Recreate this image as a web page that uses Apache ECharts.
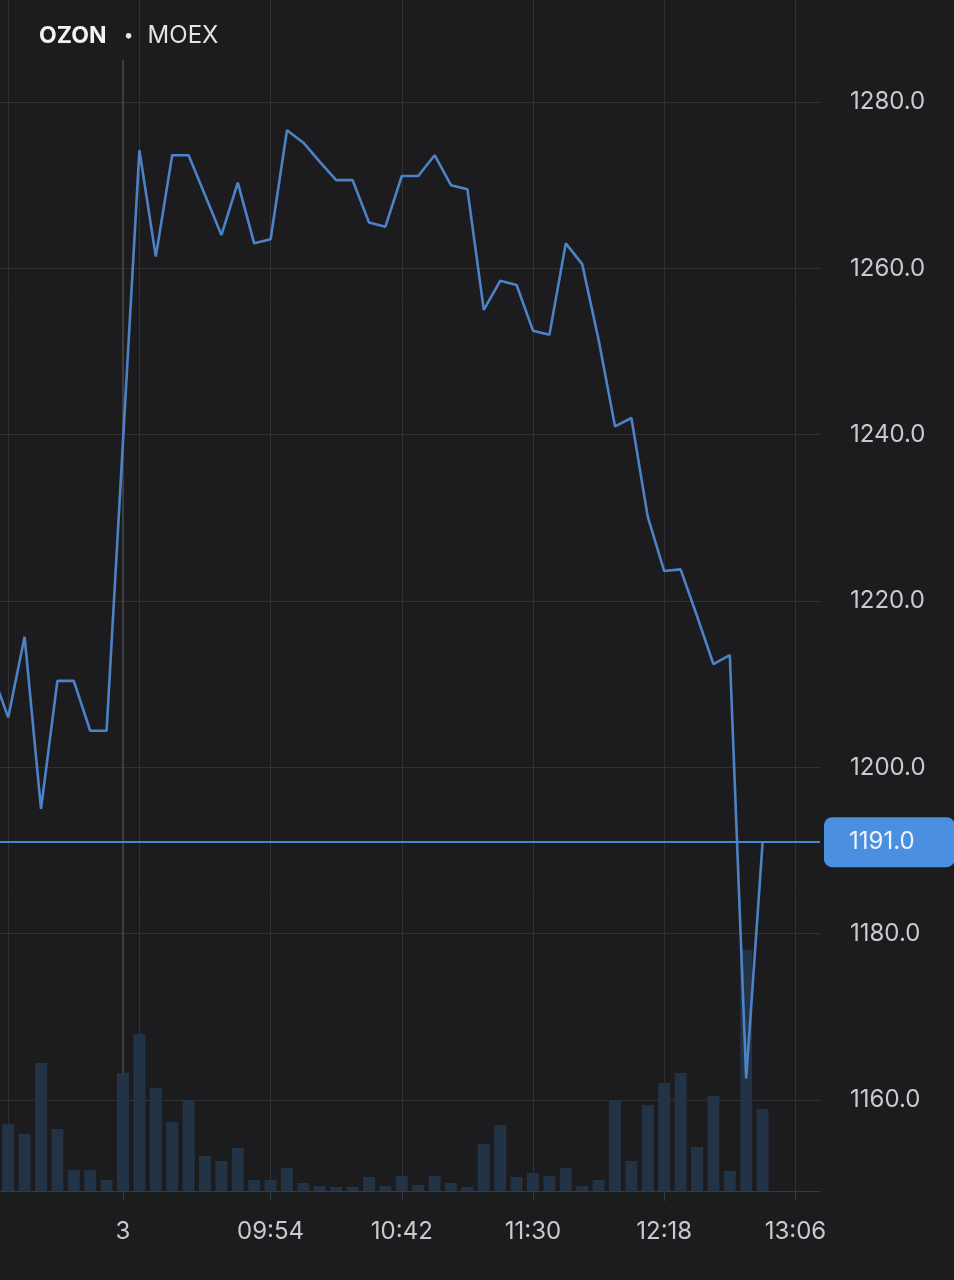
<!DOCTYPE html>
<html><head><meta charset="utf-8">
<script src="https://cdn.jsdelivr.net/npm/echarts@6/dist/echarts.min.js"></script>
<style>html,body{margin:0;padding:0;background:#1c1c1e;}#c{width:954px;height:1280px;}</style>
</head><body><div id="c"></div>
<script>
// 6-minute candles; first one belongs to the previous session (partly off-screen)
const times = ['23:06','23:12','23:18','23:24','23:30','23:36','23:42','23:48',
  '09:00','09:06','09:12','09:18','09:24','09:30','09:36','09:42','09:48','09:54',
  '10:00','10:06','10:12','10:18','10:24','10:30','10:36','10:42',
  '10:48','10:54','11:00','11:06','11:12','11:18','11:24','11:30',
  '11:36','11:42','11:48','11:54','12:00','12:06','12:12','12:18',
  '12:24','12:30','12:36','12:42','12:48','12:54'];
const price = [1211.5,1206.0,1215.7,1195.0,1210.4,1210.4,1204.4,1204.4,
  1239.2,1274.2,1261.4,1273.6,1273.6,1268.8,1264.0,1270.3,1263.0,1263.5,
  1276.6,1275.1,1272.8,1270.6,1270.6,1265.5,1265.0,1271.1,
  1271.1,1273.6,1270.0,1269.5,1255.0,1258.5,1258.0,1252.5,
  1252.0,1263.0,1260.5,1251.4,1241.0,1242.0,1230.1,1223.6,
  1223.8,1218.2,1212.4,1213.5,1162.6,1191.0];
const volume = [40,67,57,128,62,21,21,11,
  118,157,103,69,91,35,30,43,11,11,
  23,8,5,4,4,14,5,15,
  6,15,8,4,47,66,14,18,
  15,23,5,11,91,30,86,108,
  118,44,95,20,241,82];
const lastPrice = 1191.0;
const xTickSlots = [7,16,24,32,40,48];
const xTickLabels = ['3','09:54','10:42','11:30','12:18','13:06'];
const gridSlots = [0,8,16,24,32,40,48];
const daySlot = 7;
const yTicks = [1160,1180,1200,1220,1240,1260,1280];

const FONT = 'Inter, Roboto, "Noto Sans", sans-serif';
const chart = echarts.init(document.getElementById('c'), null, {renderer:'canvas'});
const priceData = price.map((v,i)=>[i-1, v]);
const volData = volume.map((v,i)=>[i-1, v]);

chart.setOption({
  backgroundColor:'#1c1c1e',
  animation:false,
  title:{
    text:'{a|OZON}{b|•}{c|MOEX}', left:34, top:19,
    textStyle:{rich:{
      a:{fontSize:23,fontWeight:'bold',color:'#f2f2f4',fontFamily:FONT},
      b:{fontSize:18,fontWeight:'normal',color:'#e4e4e6',fontFamily:FONT,padding:[0,14,0,17]},
      c:{fontSize:24,fontWeight:'normal',color:'#e4e4e6',fontFamily:FONT}
    }}
  },
  grid:{left:0,right:134,top:0,bottom:89},
  xAxis:{
    type:'value', min:-0.5, max:49.5,
    axisLine:{show:true,lineStyle:{color:'#3a3a3d',width:1}},
    axisTick:{show:true,customValues:xTickSlots,length:10,lineStyle:{color:'#3a3a3d'}},
    axisLabel:{customValues:xTickSlots,formatter:v=>xTickLabels[xTickSlots.indexOf(v)],
      color:'#cacace',fontSize:24,margin:29,fontFamily:FONT},
    splitLine:{show:false}
  },
  yAxis:[{
    type:'value', position:'right', min:1149.06, max:1292.26, splitNumber:7,
    axisLine:{show:true,lineStyle:{color:'#3a3a3d'}},
    axisTick:{show:true,length:10,customValues:yTicks,lineStyle:{color:'#333336'}},
    axisLabel:{customValues:yTicks,formatter:v=>v.toFixed(1),color:'#cacace',fontSize:24,margin:30,fontFamily:FONT},
    splitLine:{show:true,lineStyle:{color:'#313134'}}
  },{
    type:'value', min:0, max:1191, show:false, splitLine:{show:false}
  }],
  series:[{
    type:'bar', data:volData, yAxisIndex:1, barWidth:12, z:2,
    itemStyle:{color:'#233346'},
    markLine:{
      silent:true, z:1, symbol:['none','none'], label:{show:false}, animation:false,
      lineStyle:{color:'#313134',width:1,type:'solid'},
      data: gridSlots.map(s=>({xAxis:s})).concat([[
        {coord:[daySlot,1131],lineStyle:{color:'#4a4a4e',width:1.5,type:'solid'}},
        {coord:[daySlot,0]}
      ]])
    }
  },{
    type:'line', data:priceData, yAxisIndex:0, symbol:'none', z:3, clip:true,
    lineStyle:{color:'#4d82c6',width:2.6},
    markLine:{
      silent:true, z:4, symbol:['none','none'], animation:false,
      lineStyle:{color:'#4a86d6',width:2,type:'solid'},
      data:[{yAxis:lastPrice}],
      label:{position:'end',distance:4,formatter:p=>Number(p.value).toFixed(1),
        backgroundColor:'#4a8fe0',color:'#eef4fc',borderRadius:8,padding:[13,40,13,25],
        fontSize:24,fontFamily:FONT}
    }
  }]
});
</script></body></html>
